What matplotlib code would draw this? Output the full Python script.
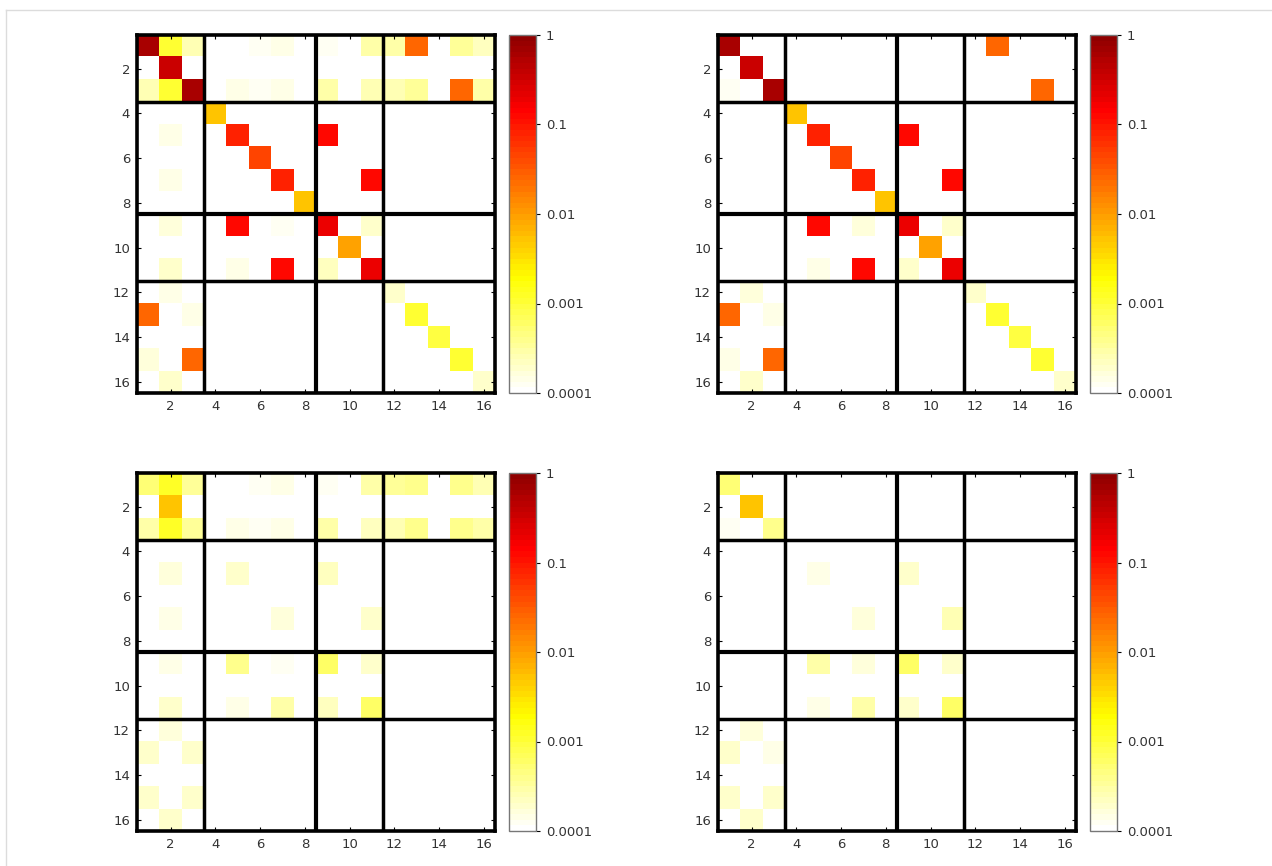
import numpy as np
import matplotlib
matplotlib.use("Agg")
import matplotlib.pyplot as plt
from matplotlib.colors import LogNorm, ListedColormap
from matplotlib.lines import Line2D

n = 16
blocks = [3.5, 8.5, 11.5]
cbar_ticks = [1e-4, 1e-3, 1e-2, 1e-1, 1]
cbar_labels = ['0.0001', '0.001', '0.01', '0.1', '1']

# (row, col, value) - everything else is empty
top_left = [
    (1, 1, 0.6), (1, 2, 0.0011), (1, 3, 0.00026), (1, 6, 0.00012), (1, 7, 0.00015),
    (1, 9, 0.00012), (1, 11, 0.0003), (1, 12, 0.0003), (1, 13, 0.026), (1, 15, 0.00035),
    (1, 16, 0.00022),
    (2, 2, 0.32),
    (3, 1, 0.00026), (3, 2, 0.0011), (3, 3, 0.6), (3, 5, 0.00014), (3, 6, 0.00012),
    (3, 7, 0.00014), (3, 9, 0.0003), (3, 11, 0.00024), (3, 12, 0.00026), (3, 13, 0.00035),
    (3, 15, 0.026), (3, 16, 0.00028),
    (4, 4, 0.0056),
    (5, 2, 0.00014), (5, 5, 0.085), (5, 9, 0.13),
    (6, 6, 0.045),
    (7, 2, 0.00014), (7, 7, 0.075), (7, 11, 0.12),
    (8, 8, 0.0056),
    (9, 2, 0.00016), (9, 5, 0.13), (9, 7, 0.00012), (9, 9, 0.19), (9, 11, 0.00018),
    (10, 10, 0.009),
    (11, 2, 0.00018), (11, 5, 0.00014), (11, 7, 0.12), (11, 9, 0.00022), (11, 11, 0.19),
    (12, 2, 0.00015), (12, 12, 0.00018),
    (13, 1, 0.026), (13, 3, 0.00015), (13, 13, 0.001),
    (14, 14, 0.0009),
    (15, 1, 0.00016), (15, 3, 0.026), (15, 15, 0.001),
    (16, 2, 0.00018), (16, 16, 0.0002),
]

top_right = [
    (1, 1, 0.6), (1, 13, 0.026),
    (2, 2, 0.32),
    (3, 1, 0.00012), (3, 3, 0.6), (3, 15, 0.026),
    (4, 4, 0.0056),
    (5, 5, 0.085), (5, 9, 0.13),
    (6, 6, 0.045),
    (7, 7, 0.075), (7, 11, 0.12),
    (8, 8, 0.0056),
    (9, 5, 0.13), (9, 7, 0.00016), (9, 9, 0.19), (9, 11, 0.00018),
    (10, 10, 0.009),
    (11, 5, 0.00015), (11, 7, 0.12), (11, 9, 0.0002), (11, 11, 0.19),
    (12, 2, 0.00017), (12, 12, 0.00018),
    (13, 1, 0.026), (13, 3, 0.00014), (13, 13, 0.001),
    (14, 14, 0.0009),
    (15, 1, 0.00015), (15, 3, 0.026), (15, 15, 0.001),
    (16, 2, 0.00018), (16, 16, 0.0002),
]

bottom_left = [
    (1, 1, 0.0005), (1, 2, 0.0012), (1, 3, 0.00035), (1, 6, 0.00012), (1, 7, 0.00015),
    (1, 9, 0.00012), (1, 11, 0.0003), (1, 12, 0.00035), (1, 13, 0.0004), (1, 15, 0.0004),
    (1, 16, 0.00025),
    (2, 2, 0.0056),
    (3, 1, 0.0003), (3, 2, 0.0012), (3, 3, 0.00035), (3, 5, 0.00015), (3, 6, 0.00012),
    (3, 7, 0.00014), (3, 9, 0.0003), (3, 11, 0.00022), (3, 12, 0.00026), (3, 13, 0.0004),
    (3, 15, 0.0004), (3, 16, 0.0003),
    (5, 2, 0.00016), (5, 5, 0.00018), (5, 9, 0.00022),
    (7, 2, 0.00015), (7, 7, 0.00017), (7, 11, 0.0002),
    (9, 2, 0.00015), (9, 5, 0.0004), (9, 7, 0.00012), (9, 9, 0.0006), (9, 11, 0.0002),
    (11, 2, 0.00018), (11, 5, 0.00014), (11, 7, 0.0003), (11, 9, 0.00022), (11, 11, 0.0006),
    (12, 2, 0.00016),
    (13, 1, 0.00018), (13, 3, 0.00018),
    (15, 1, 0.00018), (15, 3, 0.0002),
    (16, 2, 0.0002),
]

bottom_right = [
    (1, 1, 0.0005),
    (2, 2, 0.0056),
    (3, 1, 0.00012), (3, 3, 0.0004),
    (5, 5, 0.00015), (5, 9, 0.0002),
    (7, 7, 0.00017), (7, 11, 0.00025),
    (9, 5, 0.0003), (9, 7, 0.00016), (9, 9, 0.0006), (9, 11, 0.0002),
    (11, 5, 0.00015), (11, 7, 0.0003), (11, 9, 0.0002), (11, 11, 0.0006),
    (12, 2, 0.00017),
    (13, 1, 0.00018), (13, 3, 0.00015),
    (15, 1, 0.00018), (15, 3, 0.0002),
    (16, 2, 0.0002),
]


def to_matrix(entries):
    m = np.full((n, n), 1e-4)
    for r, c, v in entries:
        m[r - 1, c - 1] = v
    return m


# hot colormap, reversed and cut before it turns black
cmap = ListedColormap(plt.cm.hot(np.linspace(1.0, 0.2, 64)))
norm = LogNorm(vmin=1e-4, vmax=1)

W, H = 1272, 866
fig = plt.figure(figsize=(W / 100, H / 100), dpi=100)

# light frame like the notebook cell
fig.add_artist(Line2D([6 / W, 6 / W], [0, 1 - 10 / H], color='#dcdcdc', lw=1))
fig.add_artist(Line2D([6 / W, 1], [1 - 10 / H, 1 - 10 / H], color='#dcdcdc', lw=1))

panels = [(top_left, 137, 35), (top_right, 718, 35),
          (bottom_left, 137, 473), (bottom_right, 718, 473)]
size = 358

for entries, x0, y0 in panels:
    ax = fig.add_axes([x0 / W, 1 - (y0 + size) / H, size / W, size / H])
    im = ax.imshow(to_matrix(entries), cmap=cmap, norm=norm, interpolation='nearest',
                   extent=(0.5, n + 0.5, n + 0.5, 0.5))
    for b in blocks:
        lw = 3.0 if b == 8.5 else 2.5
        ax.axvline(b, color='black', lw=lw)
        ax.axhline(b, color='black', lw=lw)
    for s in ax.spines.values():
        s.set_linewidth(2.6)
    ax.set_xticks(range(2, n + 1, 2))
    ax.set_yticks(range(2, n + 1, 2))
    ax.tick_params(direction='in', top=True, right=True, length=3, width=0.8,
                   labelsize=9.5, labelcolor='#333333', pad=5)

    cax = fig.add_axes([(x0 + size + 14) / W, 1 - (y0 + size) / H, 27 / W, size / H])
    cb = fig.colorbar(im, cax=cax, ticks=cbar_ticks)
    cb.ax.set_yticklabels(cbar_labels)
    cb.ax.minorticks_off()
    cb.outline.set_edgecolor('#777777')
    cb.outline.set_linewidth(1)
    cb.ax.tick_params(length=3, width=0.8, labelsize=9.5, labelcolor='#333333', pad=4)

fig.savefig('out.png', dpi=100)
